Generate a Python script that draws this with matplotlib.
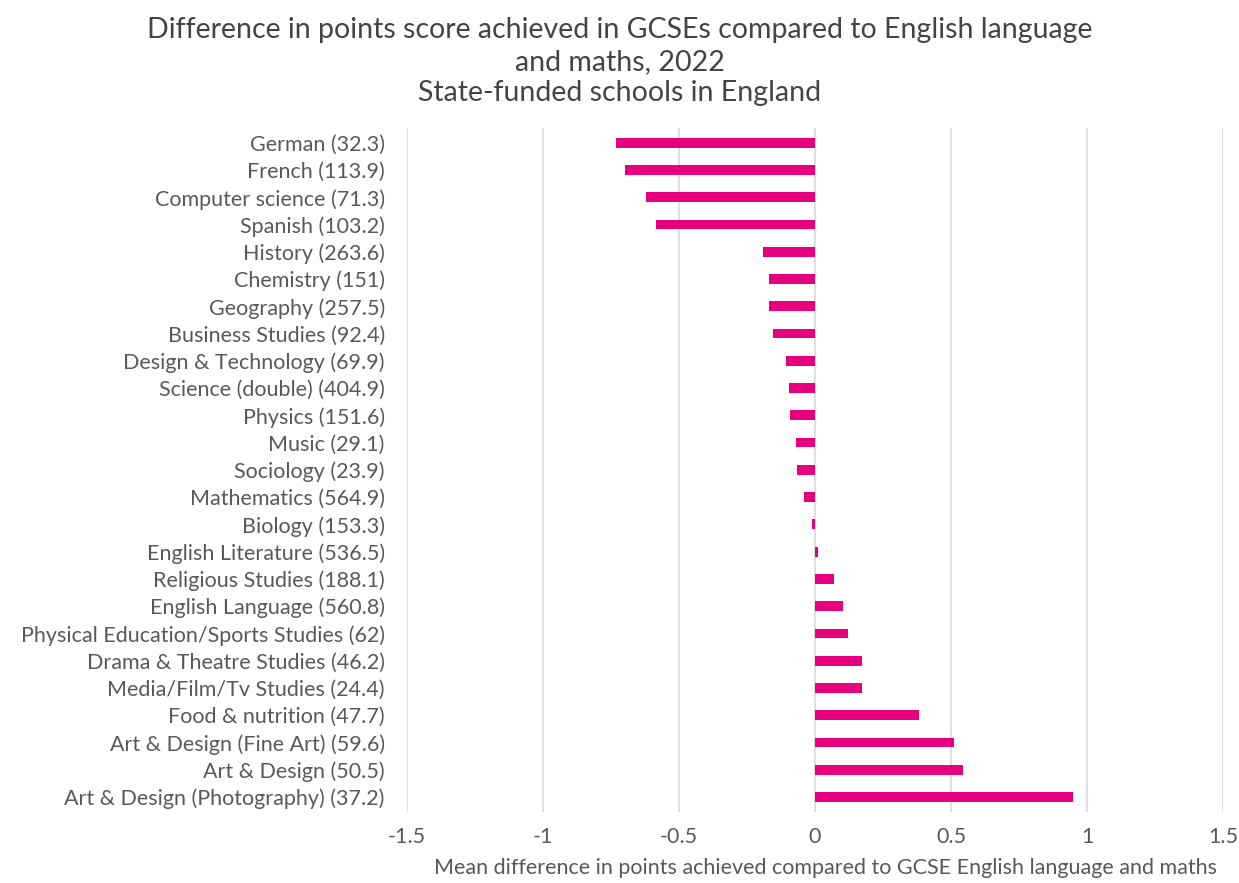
import matplotlib.pyplot as plt

subjects = [
    'German (32.3)', 'French (113.9)', 'Computer science (71.3)', 'Spanish (103.2)',
    'History (263.6)', 'Chemistry (151)', 'Geography (257.5)', 'Business Studies (92.4)',
    'Design & Technology (69.9)', 'Science (double) (404.9)', 'Physics (151.6)',
    'Music (29.1)', 'Sociology (23.9)', 'Mathematics (564.9)', 'Biology (153.3)',
    'English Literature (536.5)', 'Religious Studies (188.1)', 'English Language (560.8)',
    'Physical Education/Sports Studies (62)', 'Drama & Theatre Studies (46.2)',
    'Media/Film/Tv Studies (24.4)', 'Food & nutrition (47.7)',
    'Art & Design (Fine Art) (59.6)', 'Art & Design (50.5)', 'Art & Design (Photography) (37.2)',
]
diffs = [
    -0.73, -0.70, -0.62, -0.585, -0.19, -0.17, -0.168, -0.153, -0.107, -0.097, -0.092,
    -0.069, -0.065, -0.039, -0.012, 0.012, 0.069, 0.104, 0.122, 0.173, 0.173, 0.384,
    0.512, 0.545, 0.95,
]
xticks = [-1.5, -1, -0.5, 0, 0.5, 1, 1.5]
xtick_labels = ['-1.5', '-1', '-0.5', '0', '0.5', '1', '1.5']

plt.rcParams['font.family'] = ['Lato', 'DejaVu Sans']
grey = '#595959'

fig = plt.figure(figsize=(12.39, 8.83), dpi=100)
ax = fig.add_axes([0.3285, 0.0804, 0.6586, 0.775])

pos = list(range(len(subjects)))
ax.barh(pos, diffs, height=0.36, color='#E6007E', zorder=3)

ax.set_xlim(-1.5, 1.5)
ax.set_ylim(len(subjects) - 0.45, -0.55)
ax.set_yticks(pos)
ax.set_yticklabels(subjects, fontsize=15.5, color=grey)
ax.set_xticks(xticks)
ax.set_xticklabels(xtick_labels, fontsize=15.5, color=grey)
ax.tick_params(axis='y', length=0, pad=16)
ax.tick_params(axis='x', length=0, pad=11)
ax.grid(axis='x', color='#d9d9d9', linewidth=1.2, zorder=0)
for s in ax.spines.values():
    s.set_visible(False)

ax.set_xlabel('Mean difference in points achieved compared to GCSE English language and maths',
              fontsize=15.5, color=grey, labelpad=8, x=0.513)

title_kw = dict(ha='center', va='center', fontsize=20.5, color='#444444')
fig.text(0.5, 0.966, 'Difference in points score achieved in GCSEs compared to English language', **title_kw)
fig.text(0.5, 0.930, 'and maths, 2022', **title_kw)
fig.text(0.5, 0.895, 'State-funded schools in England', **title_kw)

fig.savefig('out.png', dpi=100)
